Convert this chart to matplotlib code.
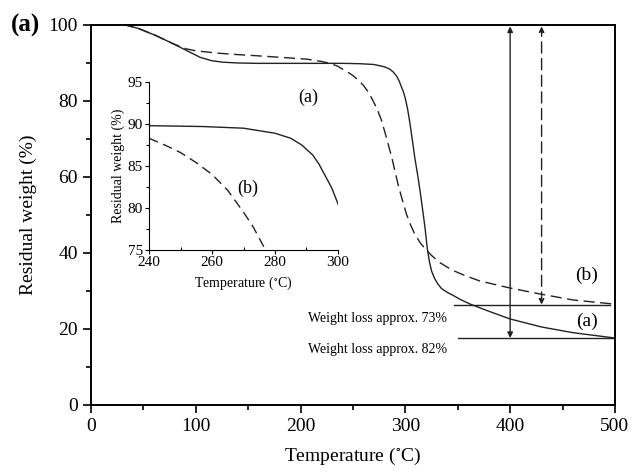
import matplotlib
matplotlib.use("Agg")
import matplotlib.pyplot as plt
import numpy as np

plt.rcParams['font.family'] = ['Liberation Serif', 'DejaVu Serif']
plt.rcParams['mathtext.fontset'] = 'stix'

# Curve (a): solid
temp_a = [30, 34, 45, 62, 78, 91, 104, 115, 126, 140, 158, 200, 230, 240, 257, 270, 280, 285,
          288.5, 292, 294, 296, 298, 300, 302, 304.4, 307, 309, 312, 314, 316.5, 318.7, 321, 323,
          325, 328, 331, 334.5, 340, 345, 352, 362, 380, 400, 430, 460, 500]
wt_a = [100, 99.8, 99, 97.1, 95, 93.2, 91.4, 90.5, 90.1, 89.9, 89.8, 89.8, 89.8, 89.8, 89.7, 89.5, 88.9, 88.3,
        87.5, 86.3, 85.2, 83.8, 82.4, 80.5, 78, 74, 69, 65, 60, 56.3, 51.3, 46.7, 41, 37.6,
        35.2, 33.2, 31.8, 30.6, 29.6, 28.9, 27.8, 26.5, 24.6, 22.6, 20.5, 19, 17.6]
# Curve (b): dashed
temp_b = [30, 34, 45, 62, 78, 91, 100, 110, 120, 140, 158, 180, 206, 220, 228, 235, 240, 245, 250,
          255, 260, 265, 270, 273, 277, 281, 287, 293, 297, 301, 305, 309, 314, 319, 325, 333, 345,
          358, 371, 399, 428, 460, 500]
wt_b = [100, 99.8, 99, 97.1, 95, 93.6, 93.1, 92.8, 92.5, 92.1, 91.8, 91.4, 90.9, 90.3, 89.8, 89.1, 88.3, 87.5, 86.6,
        85.4, 84, 82.1, 79.5, 77.8, 75, 71.2, 65.1, 58, 54, 50.2, 47.3, 44.9, 42.7, 41, 39.3, 37.4, 35.4,
        33.9, 32.6, 30.8, 29.2, 27.6, 26.5]

residue_a = 17.6
residue_b = 26.4
loss_a_label = "Weight loss approx. 82%"
loss_b_label = "Weight loss approx. 73%"

fig = plt.figure(figsize=(6.32, 4.72), dpi=100)
ax = fig.add_axes([0.144, 0.142, 0.829, 0.806])
col = '#222222'
ax.plot(temp_a, wt_a, color=col, lw=1.0)
ax.plot(temp_b, wt_b, color=col, lw=1.0, dashes=(8, 4))
ax.set_xlim(0, 500)
ax.set_ylim(0, 100)
ax.set_xticks([0, 100, 200, 300, 400, 500])
ax.set_xticks(np.arange(50, 500, 100), minor=True)
ax.set_yticks([0, 20, 40, 60, 80, 100])
ax.set_yticks(np.arange(10, 100, 20), minor=True)
ax.tick_params(which='major', direction='out', length=6, width=1.2, labelsize=14)
ax.tick_params(which='minor', direction='out', length=3.5, width=1.2)
for s in ax.spines.values():
    s.set_linewidth(1.4)
ax.set_xlabel("Temperature ($^{\\circ}$C)", fontsize=14, labelpad=8)
ax.set_ylabel("Residual weight (%)", fontsize=14, labelpad=8)

# horizontal residue lines
ax.plot([346, 495], [residue_b, residue_b], color=col, lw=1.0)
ax.plot([350, 500], [residue_a, residue_a], color=col, lw=1.0)
# arrows
ax.annotate('', xy=(400, 99.5), xytext=(400, residue_a),
            arrowprops=dict(arrowstyle='<|-|>', color=col, lw=1.0,
                            mutation_scale=8, shrinkA=0, shrinkB=0))
ax.annotate('', xy=(430, 99.5), xytext=(430, residue_b),
            arrowprops=dict(arrowstyle='<|-|>', color=col, lw=1.0, linestyle=(0, (8, 4)),
                            mutation_scale=8, shrinkA=0, shrinkB=0))
ax.text(207, 22.6, loss_b_label, fontsize=10, va='center', ha='left')
ax.text(207, 14.5, loss_a_label, fontsize=10, va='center', ha='left')
ax.text(473, 34, "(b)", fontsize=14, ha='center', va='center')
ax.text(473, 22.1, "(a)", fontsize=14, ha='center', va='center')

fig.text(0.04, 0.947, "(a)", fontsize=18, fontweight='bold', ha='center', va='center')

# inset
ins = fig.add_axes([0.2358, 0.4703, 0.299, 0.356])
ins.plot(temp_a, wt_a, color=col, lw=1.0)
ins.plot(temp_b, wt_b, color=col, lw=1.0, dashes=(7, 4))
ins.set_xlim(240, 300)
ins.set_ylim(75, 95)
ins.spines['top'].set_visible(False)
ins.spines['right'].set_visible(False)
ins.set_xticks([240, 260, 280, 300])
ins.set_xticks([250, 270, 290], minor=True)
ins.set_yticks([75, 80, 85, 90, 95])
ins.set_yticks([77.5, 82.5, 87.5, 92.5], minor=True)
ins.tick_params(which='major', direction='out', length=3, width=0.8, labelsize=11, pad=1.5)
ins.tick_params(which='minor', direction='in', length=2.5, width=0.8)
ins.tick_params(axis='y', which='minor', direction='out', length=2)
ins.patch.set_alpha(0)
ins.set_xlabel("Temperature ($^{\\circ}$C)", fontsize=10, labelpad=4)
ins.set_ylabel("Residual weight (%)", fontsize=10, labelpad=2)
ins.text(290.5, 93.2, "(a)", fontsize=13, ha='center', va='center')
ins.text(271.4, 82.4, "(b)", fontsize=13, ha='center', va='center')

fig.savefig("out.png", dpi=100)
